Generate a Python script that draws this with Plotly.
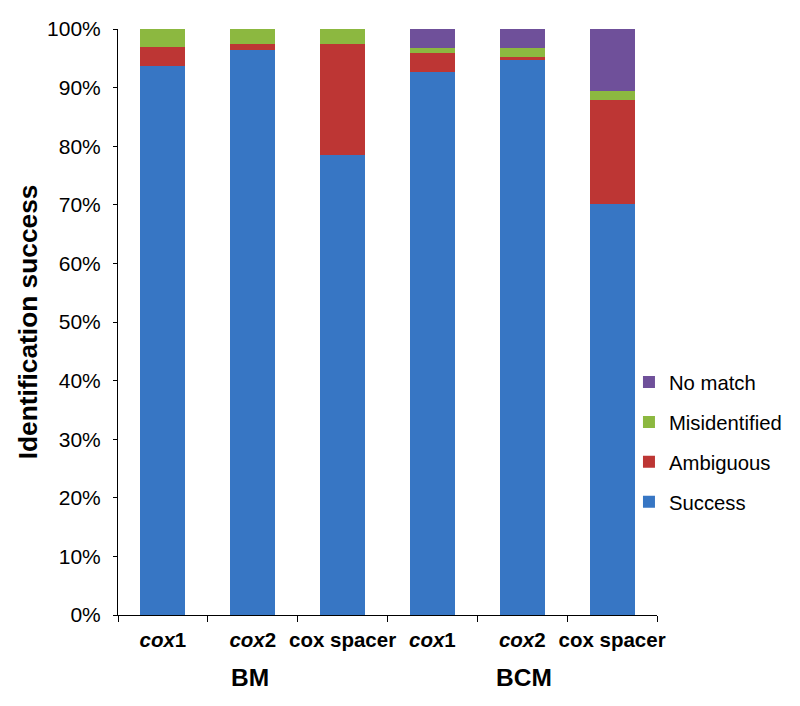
import plotly.graph_objects as go

categories = ["BM cox1", "BM cox2", "BM cox spacer", "BCM cox1", "BCM cox2", "BCM cox spacer"]
tick_labels = ["<i>cox</i>1", "<i>cox</i>2", "cox spacer", "<i>cox</i>1", "<i>cox</i>2", "cox spacer"]
groups = ["BM", "BCM"]

success = [93.7, 96.4, 78.5, 92.7, 94.7, 70.1]
ambiguous = [3.2, 1.0, 18.9, 3.2, 0.6, 17.8]
misidentified = [3.1, 2.6, 2.6, 0.9, 1.5, 1.6]
no_match = [0.0, 0.0, 0.0, 3.2, 3.2, 10.5]

series = [
    ("Success", success, "#3776c4"),
    ("Ambiguous", ambiguous, "#bd3634"),
    ("Misidentified", misidentified, "#8cb840"),
    ("No match", no_match, "#6f509a"),
]

FONT = "Arial, Liberation Sans, sans-serif"

fig = go.Figure()
n = len(series)
for i, (name, vals, col) in enumerate(series):
    fig.add_trace(go.Bar(
        x=categories, y=vals, name=name, legendgroup=name,
        legendrank=n - i,
        marker=dict(color=col, line=dict(width=0)), width=0.5,
    ))

# page body has an 8px default margin, so margins are offset by 8px
fig.update_layout(
    width=800, height=706,
    barmode="stack",
    plot_bgcolor="white", paper_bgcolor="white",
    margin=dict(l=110, r=151, t=20.5, b=98.5),
    font=dict(family=FONT, color="black"),
    legend=dict(
        x=0.948, xanchor="left", y=0.2946, yanchor="middle",
        traceorder="grouped", tracegroupgap=10.5,
        font=dict(size=20.3, family=FONT, color="black"),
        bgcolor="rgba(0,0,0,0)",
    ),
    showlegend=True,
)

fig.update_xaxes(
    type="category", automargin=False,
    tickvals=categories, ticktext=tick_labels, tickangle=0,
    tickson="boundaries", ticks="outside", ticklen=6, tickcolor="black",
    ticklabelstandoff=6,
    showline=True, linecolor="black", linewidth=1,
    showgrid=False, zeroline=False,
    tickfont=dict(size=20.5, family=FONT, weight="bold", color="black"),
    range=[-0.5, 5.5],
)

fig.update_yaxes(
    range=[0, 100], dtick=10, ticksuffix="%", automargin=False,
    ticks="outside", ticklen=4, tickcolor="black",
    ticklabelstandoff=8,
    showline=True, linecolor="black", linewidth=1,
    showgrid=False, zeroline=False,
    tickfont=dict(size=21, family=FONT, color="black"),
    title=dict(text="Identification success", standoff=1,
               font=dict(size=26.3, family=FONT, weight="bold", color="black")),
)

for gx, g in zip([0.245, 0.753], groups):
    fig.add_annotation(
        text=g, xref="paper", yref="paper", x=gx, y=-0.107,
        showarrow=False, xanchor="center", yanchor="middle",
        font=dict(size=24.5, family=FONT, weight="bold", color="black"),
    )

fig.write_html("out.html")
